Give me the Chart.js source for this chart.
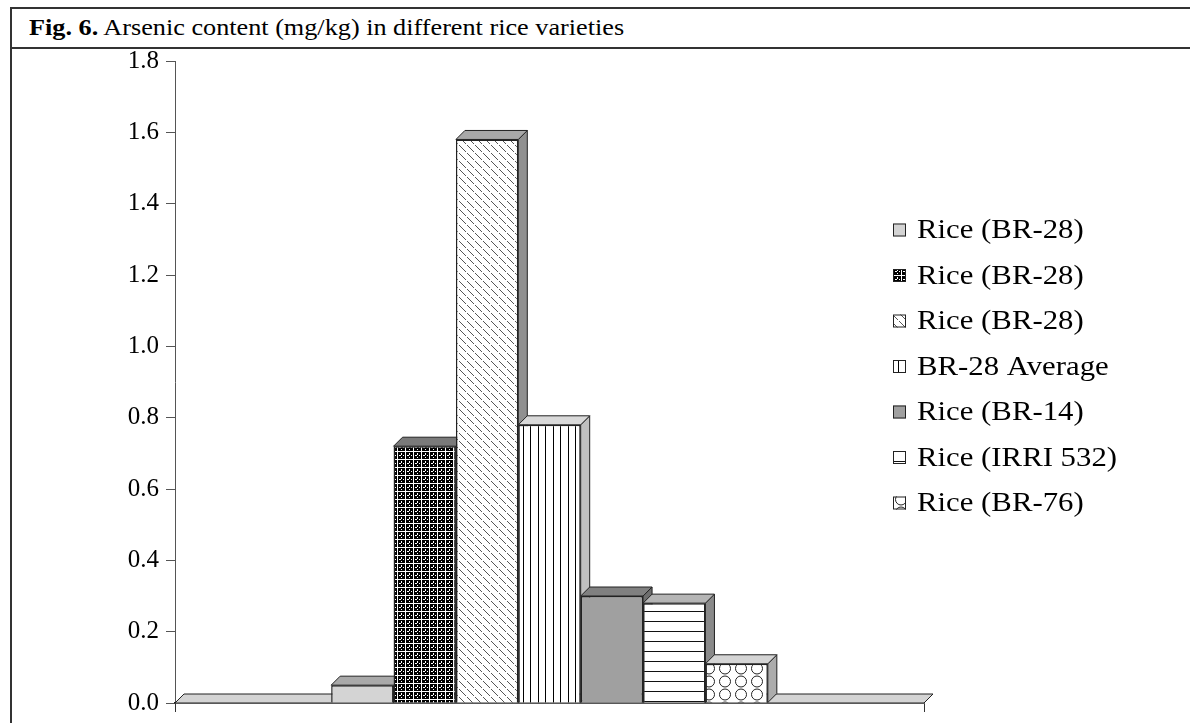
<!DOCTYPE html>
<html>
<head>
<meta charset="utf-8">
<script src="https://cdn.jsdelivr.net/npm/chart.js@4.4.1/dist/chart.umd.min.js"></script>
<style>
  html, body { margin: 0; padding: 0; background: #fff; overflow: hidden; }
  #frame { position: absolute; left: 10px; top: 7px; width: 1220px; height: 760px;
           border-left: 2px solid #333; border-top: 2px solid #333; }
  #head { height: 38px; border-bottom: 2px solid #333; }
  #title { display: inline-block; font-family: 'Liberation Serif', serif; font-size: 23px; line-height: 38px;
           margin-left: 17px; color: #000; transform: scaleX(1.14); transform-origin: left center; white-space: nowrap; }
  #wrap { position: absolute; left: 13px; top: 51px; width: 1177px; height: 672px; }
</style>
</head>
<body>
<div id="frame"><div id="head"><span id="title"><b>Fig. 6.</b> Arsenic content (mg/kg) in different rice varieties</span></div></div>
<div id="wrap"><canvas id="mycanvas"></canvas></div>
<script>
var categories = [''];
var seriesLabels = ['Rice (BR-28)', 'Rice (BR-28)', 'Rice (BR-28)', 'BR-28 Average', 'Rice (BR-14)', 'Rice (IRRI 532)', 'Rice (BR-76)'];
var seriesValues = [0.05, 0.72, 1.58, 0.78, 0.30, 0.28, 0.11];
var yMin = 0, yMax = 1.8, yStep = 0.2;

// 3d depth offset of the bars and floor
var DX = 9, DY = -9;

function makePattern(w, h, draw) {
  var c = document.createElement('canvas');
  c.width = w; c.height = h;
  var g = c.getContext('2d');
  draw(g, w, h);
  return g.createPattern(c, 'repeat');
}

var gridFill = makePattern(8, 8, function(g) {
  g.fillStyle = '#000'; g.fillRect(0, 0, 8, 8);
  g.fillStyle = '#fff';
  g.fillRect(0, 0, 8, 1); g.fillRect(0, 0, 1, 8);
  g.fillRect(2, 4, 2, 1); g.fillRect(6, 4, 1, 1);
  g.fillRect(4, 2, 1, 2); g.fillRect(4, 6, 1, 1);
});
var diagFill = makePattern(8, 8, function(g) {
  g.fillStyle = '#fff'; g.fillRect(0, 0, 8, 8);
  g.fillStyle = '#555';
  for (var i = 0; i < 8; i++) if (i != 5) g.fillRect(i, i, 1, 1);
});
var vertFill = makePattern(15, 4, function(g) {
  g.fillStyle = '#fff'; g.fillRect(0, 0, 15, 4);
  g.fillStyle = '#000'; g.fillRect(0, 0, 1, 4); g.fillRect(7, 0, 1, 4);
});
var horzFill = makePattern(4, 10, function(g) {
  g.fillStyle = '#fff'; g.fillRect(0, 0, 4, 10);
  g.fillStyle = '#111'; g.fillRect(0, 0, 4, 1);
});
var circFill = makePattern(16, 13, function(g) {
  g.fillStyle = '#fff'; g.fillRect(0, 0, 16, 13);
  g.strokeStyle = '#222'; g.lineWidth = 1;
  g.beginPath(); g.arc(8, 6.5, 5.5, 0, Math.PI * 2); g.stroke();
});

var frontFills = ['#d4d4d4', gridFill, diagFill, vertFill, '#a0a0a0', horzFill, circFill];
var topColors = ['#a9a9a9', '#7a7a7a', '#a8a8a8', '#d9d9d9', '#808080', '#b5b5b5', '#d4d4d4'];
var sideColors = ['#a9a9a9', '#555555', '#909090', '#c0c0c0', '#6e6e6e', '#8a8a8a', '#acacac'];

function face(ctx, pts, fill) {
  ctx.beginPath();
  ctx.moveTo(pts[0][0], pts[0][1]);
  for (var i = 1; i < pts.length; i++) ctx.lineTo(pts[i][0], pts[i][1]);
  ctx.closePath();
  ctx.fillStyle = fill;
  ctx.fill();
  ctx.lineWidth = 1;
  ctx.strokeStyle = '#222';
  ctx.stroke();
}

var depthPlugin = {
  id: 'depth',
  beforeDatasetsDraw: function(chart) {
    var ctx = chart.ctx;
    var xs = chart.scales.x, ys = chart.scales.y;
    var zero = ys.getPixelForValue(0);
    ctx.save();
    face(ctx, [[xs.left, zero], [xs.right, zero], [xs.right + DX, zero + DY], [xs.left + DX, zero + DY]], '#d4d4d4');
    for (var i = 0; i < chart.data.datasets.length; i++) {
      var bar = chart.getDatasetMeta(i).data[0];
      var l = bar.x - bar.width / 2, r = bar.x + bar.width / 2, t = bar.y, b = bar.base;
      face(ctx, [[r, b], [r + DX, b + DY], [r + DX, t + DY], [r, t]], sideColors[i]);
      face(ctx, [[l, t], [r, t], [r + DX, t + DY], [l + DX, t + DY]], topColors[i]);
    }
    ctx.restore();
  }
};

// legend sits inside the plot's right part, like the original
var legendPlugin = {
  id: 'sideLegend',
  afterDraw: function(chart) {
    var ctx = chart.ctx;
    var sx = 1.14;
    ctx.save();
    for (var i = 0; i < seriesLabels.length; i++) {
      var yc = 179 + 45.5 * i;
      ctx.fillStyle = frontFills[i];
      ctx.fillRect(880, yc - 6.5, 13, 13);
      ctx.strokeStyle = '#222';
      ctx.lineWidth = 1;
      ctx.strokeRect(880.5, yc - 6, 12, 12);
      ctx.save();
      ctx.scale(sx, 1);
      ctx.font = '27px "Liberation Serif"';
      ctx.textBaseline = 'middle';
      ctx.fillStyle = '#000';
      ctx.fillText(seriesLabels[i], 904 / sx, yc + 1);
      ctx.restore();
    }
    ctx.restore();
  }
};

var datasets = [];
for (var i = 0; i < seriesLabels.length; i++) {
  datasets.push({
    label: seriesLabels[i],
    data: [seriesValues[i]],
    backgroundColor: frontFills[i],
    borderColor: '#222',
    borderWidth: 1.5,
    barPercentage: 1,
    categoryPercentage: 0.583
  });
}

var chartdata = { labels: categories, datasets: datasets };

var ctx = document.getElementById('mycanvas');
var barGraph = new Chart(ctx, {
  type: 'bar',
  data: chartdata,
  plugins: [depthPlugin, legendPlugin],
  options: {
    responsive: true,
    maintainAspectRatio: false,
    animation: false,
    events: [],
    layout: { padding: { left: 92, right: 266, top: 10, bottom: 0 } },
    plugins: { legend: { display: false }, tooltip: { enabled: false } },
    scales: {
      x: {
        ticks: { display: false },
        grid: { drawOnChartArea: false, drawTicks: true, tickLength: 9, offset: true, color: '#333' },
        border: { display: true, color: '#222', width: 1.5 },
        afterFit: function(s) { s.height = 20; s.paddingLeft = 0; s.paddingRight = 0; }
      },
      y: {
        min: yMin, max: yMax,
        ticks: {
          stepSize: yStep, padding: 7, color: '#000',
          font: { family: 'Liberation Serif', size: 25 },
          callback: function(v) { return v.toFixed(1); }
        },
        grid: { drawOnChartArea: false, drawTicks: true, tickLength: 9, color: '#555' },
        border: { display: true, color: '#555', width: 1 },
        afterFit: function(s) { s.width = 70; s.paddingTop = 0; s.paddingBottom = 0; }
      }
    }
  }
});
</script>
</body>
</html>
